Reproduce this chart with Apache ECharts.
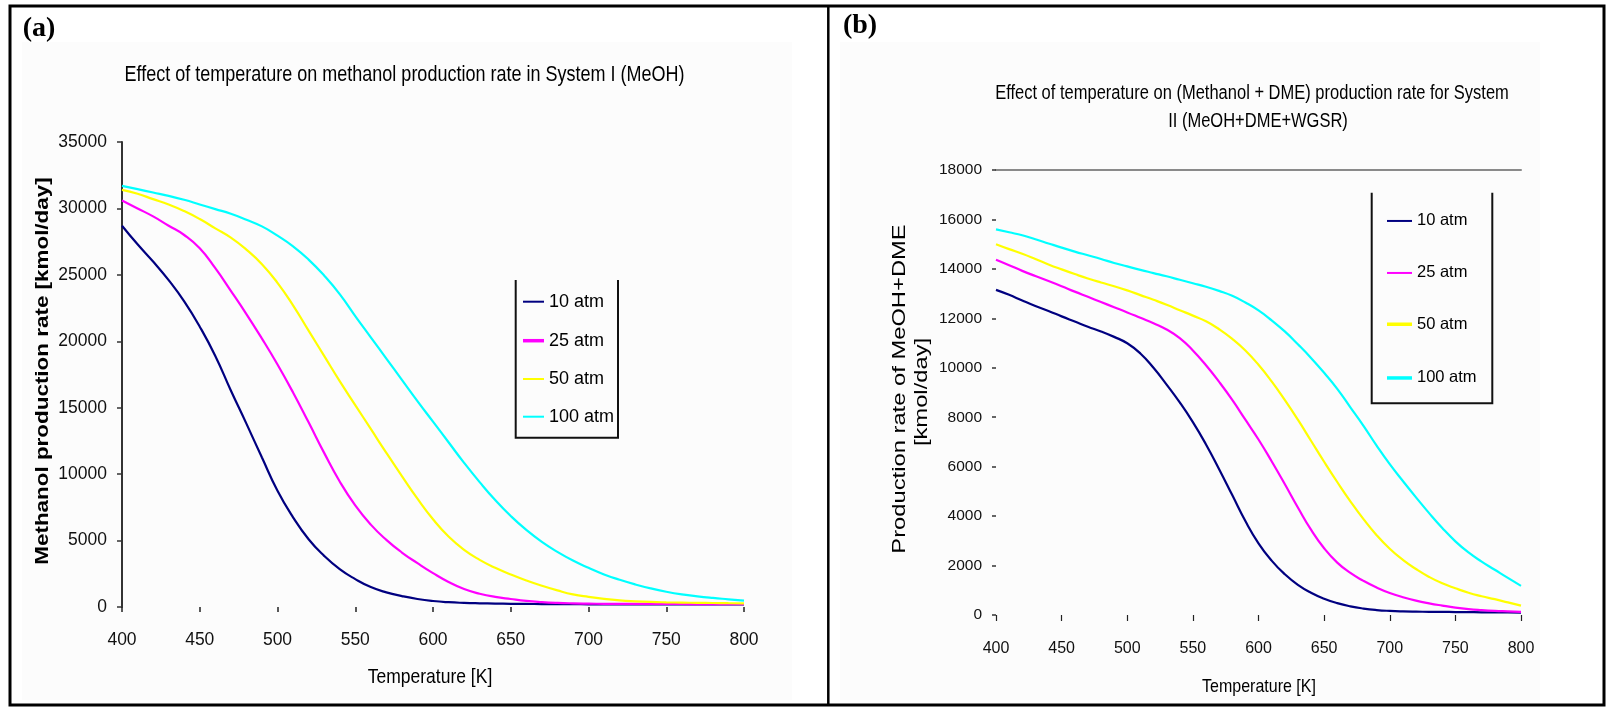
<!DOCTYPE html>
<html>
<head>
<meta charset="utf-8">
<script src="https://cdn.jsdelivr.net/npm/echarts@6/dist/echarts.min.js"></script>
<style>
  html, body { margin: 0; padding: 0; background: #ffffff; }
  #chart { width: 1608px; height: 708px; }
</style>
</head>
<body>
<div id="chart"></div>
<script>
// Temperatures [K] sampled every 10 K
const temperatures = [400, 410, 420, 430, 440, 450, 460, 470, 480, 490,
                      500, 510, 520, 530, 540, 550, 560, 570, 580, 590,
                      600, 610, 620, 630, 640, 650, 660, 670, 680, 690,
                      700, 710, 720, 730, 740, 750, 760, 770, 780, 790, 800];
const xTicks = [400, 450, 500, 550, 600, 650, 700, 750, 800];
const pressureNames = ['10 atm', '25 atm', '50 atm', '100 atm'];

// System I (MeOH): methanol production rate [kmol/day]
const sysI_10atm = [28700, 27300, 26000, 24600, 23000, 21100, 18900, 16300, 13800, 11250,
                    8750, 6750, 5100, 3850, 2850, 2100, 1500, 1100, 820, 600,
                    450, 360, 310, 280, 260, 240, 230, 220, 215, 210,
                    205, 200, 200, 200, 200, 200, 200, 200, 200, 200, 200];
const sysI_25atm = [30600, 30000, 29400, 28700, 28000, 27000, 25500, 23800, 22050, 20200,
                    18250, 16150, 13900, 11600, 9450, 7650, 6200, 5050, 4100, 3300,
                    2550, 1880, 1350, 1000, 760, 600, 460, 370, 310, 275,
                    255, 240, 235, 230, 230, 225, 225, 220, 220, 220, 220];
const sysI_50atm = [31400, 31100, 30700, 30300, 29800, 29200, 28500, 27800, 26900, 25800,
                    24400, 22700, 20800, 18900, 17000, 15200, 13400, 11600, 9850, 8150,
                    6600, 5300, 4300, 3550, 2950, 2450, 2000, 1600, 1250, 950,
                    760, 610, 500, 430, 380, 350, 330, 310, 300, 290, 280];
const sysI_100atm = [31700, 31450, 31200, 30950, 30650, 30300, 29950, 29600, 29150, 28650,
                     27950, 27150, 26150, 24950, 23550, 21900, 20300, 18700, 17100, 15500,
                     13950, 12400, 10850, 9400, 8050, 6850, 5800, 4900, 4150, 3500,
                     2950, 2450, 2050, 1700, 1400, 1150, 950, 800, 680, 580, 480];

// System II (MeOH+DME+WGSR): methanol + DME production rate [kmol/day]
const sysII_10atm = [13150, 12950, 12720, 12500, 12300, 12080, 11870, 11660, 11470, 11250,
                     10990, 10580, 10000, 9320, 8600, 7800, 6900, 5900, 4850, 3800,
                     2900, 2200, 1650, 1220, 900, 660, 480, 350, 260, 200,
                     165, 145, 135, 130, 125, 120, 115, 110, 110, 105, 100];
const sysII_25atm = [14370, 14150, 13920, 13710, 13510, 13300, 13080, 12870, 12660, 12450,
                     12240, 12020, 11800, 11550, 11200, 10700, 10100, 9430, 8700, 7900,
                     7100, 6220, 5300, 4350, 3450, 2700, 2120, 1700, 1380, 1110,
                     890, 720, 580, 470, 380, 300, 240, 200, 170, 150, 130];
const sysII_50atm = [15000, 14800, 14610, 14400, 14180, 13980, 13790, 13610, 13450, 13300,
                     13130, 12940, 12750, 12550, 12330, 12110, 11880, 11560, 11170, 10700,
                     10120, 9450, 8700, 7900, 7050, 6200, 5380, 4600, 3880, 3230,
                     2680, 2230, 1860, 1540, 1280, 1080, 900, 760, 640, 510, 380];
const sysII_100atm = [15600, 15480, 15360, 15200, 15030, 14860, 14700, 14550, 14400, 14240,
                      14100, 13960, 13830, 13700, 13560, 13420, 13280, 13110, 12910, 12640,
                      12320, 11920, 11470, 10950, 10400, 9800, 9150, 8400, 7650, 6850,
                      6100, 5420, 4760, 4120, 3520, 2980, 2530, 2160, 1830, 1500, 1180];

const lineColors = ['#000080', '#ff00ff', '#ffff00', '#00ffff'];
const SANS = '"Liberation Sans", Arial, sans-serif';
const SERIF = '"Liberation Serif", "Times New Roman", serif';

const chart = echarts.init(document.getElementById('chart'), null, { renderer: 'canvas' });

function pairs(values) {
  return temperatures.map((t, i) => [t, values[i]]);
}

function lineSeries(name, values, idx, color) {
  return {
    type: 'line',
    name: name,
    xAxisIndex: idx,
    yAxisIndex: idx,
    data: pairs(values),
    showSymbol: false,
    smooth: 0.5,
    lineStyle: { color: color, width: 2.2 },
    itemStyle: { color: color },
    emphasis: { disabled: true },
    silent: true
  };
}

const systemI = [sysI_10atm, sysI_25atm, sysI_50atm, sysI_100atm];
const systemII = [sysII_10atm, sysII_25atm, sysII_50atm, sysII_100atm];

const series = [];
pressureNames.forEach((n, i) => series.push(lineSeries(n, systemI[i], 0, lineColors[i])));
pressureNames.forEach((n, i) => series.push(lineSeries(n, systemII[i], 1, lineColors[i])));

// one legend entry per component so each sample can have its own stroke weight
function legendItem(name, left, centerY, fontSize, thickness, iconWidth) {
  return {
    show: true,
    data: [name],
    left: left,
    top: centerY - fontSize / 2,
    orient: 'vertical',
    padding: 0,
    icon: 'rect',
    itemWidth: iconWidth,
    itemHeight: thickness,
    selectedMode: false,
    textStyle: { fontFamily: SANS, fontSize: fontSize, color: '#000' }
  };
}

const legendA_Y = [301.7, 340.7, 379, 416.7];
const legendB_Y = [220.7, 272.7, 324, 377.7];
const legendA_thick = [2, 3.5, 2, 2];
const legendB_thick = [2, 2, 3.5, 3.5];
const legends = [];
pressureNames.forEach((n, i) => legends.push(legendItem(n, 523, legendA_Y[i], 18, legendA_thick[i], 21)));
pressureNames.forEach((n, i) => legends.push(legendItem(n, 1387, legendB_Y[i], 16.5, legendB_thick[i], 25)));

function label(text, x, y, fontSize, opts) {
  opts = opts || {};
  return {
    type: 'text',
    x: x, y: y,
    rotation: opts.rotation || 0,
    scaleX: opts.scaleX || 1,
    scaleY: opts.scaleY || 1,
    z: 10,
    silent: true,
    style: {
      text: text,
      fill: '#000',
      fontFamily: opts.family || SANS,
      fontSize: fontSize,
      fontWeight: opts.weight || 'normal',
      align: 'center', verticalAlign: 'middle',
      textAlign: 'center', textVerticalAlign: 'middle'
    }
  };
}

const plainNumber = v => String(v);

const option = {
  animation: false,
  backgroundColor: '#ffffff',
  grid: [
    { left: 122, top: 142, width: 622, height: 465, containLabel: false },
    { left: 996, top: 170, width: 525, height: 445, containLabel: false }
  ],
  xAxis: [
    {
      gridIndex: 0, type: 'value', min: xTicks[0], max: xTicks[xTicks.length - 1], interval: 50,
      axisLine: { show: false },
      axisTick: { show: true, length: 5, lineStyle: { color: '#222', width: 1.5 } },
      axisLabel: { margin: 24, fontFamily: SANS, fontSize: 17.5, color: '#111', formatter: plainNumber, showMinLabel: true, showMaxLabel: true },
      splitLine: { show: false }
    },
    {
      gridIndex: 1, type: 'value', min: xTicks[0], max: xTicks[xTicks.length - 1], interval: 50,
      axisLine: { show: false },
      axisTick: { show: true, length: 6, lineStyle: { color: '#222', width: 1.2 } },
      axisLabel: { margin: 26, fontFamily: SANS, fontSize: 16, color: '#111', formatter: plainNumber, showMinLabel: true, showMaxLabel: true },
      splitLine: { show: false }
    },
    {
      gridIndex: 1, type: 'value', min: xTicks[0], max: xTicks[xTicks.length - 1], position: 'top',
      axisLine: { show: true, lineStyle: { color: '#8a8a8a', width: 2 } },
      axisTick: { show: false },
      axisLabel: { show: false },
      splitLine: { show: false }
    }
  ],
  yAxis: [
    {
      gridIndex: 0, type: 'value', min: 0, max: 35000, interval: 5000,
      axisLine: { show: true, lineStyle: { color: '#333', width: 2 } },
      axisTick: { show: true, length: 5, lineStyle: { color: '#333', width: 1.5 } },
      axisLabel: { margin: 15, fontFamily: SANS, fontSize: 17.5, color: '#111', formatter: plainNumber },
      splitLine: { show: false }
    },
    {
      gridIndex: 1, type: 'value', min: 0, max: 18000, interval: 2000,
      axisLine: { show: false },
      axisTick: { show: true, length: 4, lineStyle: { color: '#333', width: 1.5 } },
      axisLabel: { margin: 14, fontFamily: SANS, fontSize: 15.5, color: '#111', formatter: plainNumber },
      splitLine: { show: false }
    }
  ],
  legend: legends,
  series: series,
  graphic: [
    // chart areas
    { type: 'rect', shape: { x: 22, y: 42, width: 770, height: 658 }, style: { fill: '#fcfcfc' }, z: -10, silent: true },
    { type: 'rect', shape: { x: 840, y: 42, width: 700, height: 658 }, style: { fill: '#fcfcfc' }, z: -10, silent: true },
    // table frame
    { type: 'rect', shape: { x: 10, y: 6, width: 1594, height: 699 }, style: { fill: null, stroke: '#000', lineWidth: 3 }, z: 20, silent: true },
    { type: 'line', shape: { x1: 828.3, y1: 6, x2: 828.3, y2: 705 }, style: { stroke: '#000', lineWidth: 2.5 }, z: 20, silent: true },
    // legend frames (open at the top)
    { type: 'polyline', shape: { points: [[515.7, 280], [515.7, 437.7], [618, 437.7], [618, 280]] }, style: { fill: null, stroke: '#111', lineWidth: 2 }, z: 5, silent: true },
    { type: 'polyline', shape: { points: [[1371.7, 192.7], [1371.7, 403.3], [1492.3, 403.3], [1492.3, 192.7]] }, style: { fill: null, stroke: '#111', lineWidth: 2 }, z: 5, silent: true },
    // panel tags
    label('(a)', 39, 29, 28, { family: SERIF, weight: 'bold' }),
    label('(b)', 860, 26, 28, { family: SERIF, weight: 'bold' }),
    // panel (a) texts
    label('Effect of temperature on methanol production rate in System I (MeOH)', 404.5, 75, 18, { scaleY: 1.2 }),
    label('Methanol production rate [kmol/day]', 43, 371, 19, { weight: 'bold', rotation: Math.PI / 2, scaleX: 1.18 }),
    label('Temperature [K]', 430, 677, 17.5, { scaleY: 1.2 }),
    // panel (b) texts
    label('Effect of temperature on (Methanol + DME) production rate for System', 1252, 93.3, 16.5, { scaleY: 1.2 }),
    label('II (MeOH+DME+WGSR)', 1258, 121.7, 16.5, { scaleY: 1.2 }),
    label('Production rate of MeOH+DME', 900, 389, 19, { rotation: Math.PI / 2, scaleX: 1.25 }),
    label('[kmol/day]', 922, 392, 19, { rotation: Math.PI / 2, scaleX: 1.25 }),
    label('Temperature [K]', 1259, 686.7, 16, { scaleY: 1.2 })
  ]
};

chart.setOption(option);
</script>
</body>
</html>
